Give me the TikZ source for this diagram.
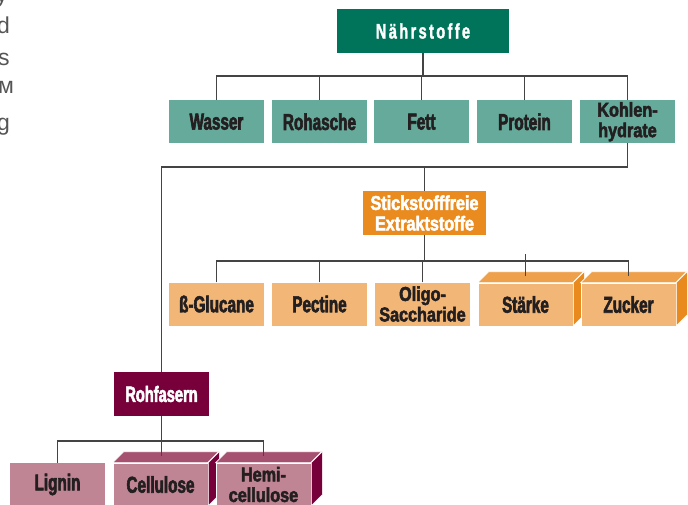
\documentclass[tikz,border=0pt]{standalone}
\usepackage{fontspec}
\setmainfont{Liberation Sans}
\newfontfamily\cfa{Liberation Sans Bold}[FakeStretch=0.665,FakeBold=2.5]
\newfontfamily\cfb{Liberation Sans Bold}[FakeStretch=0.81,FakeBold=2.5]
\newfontfamily\cfn{Liberation Sans Bold}[FakeStretch=0.70,LetterSpace=11,FakeBold=1.5]
\definecolor{greenD}{HTML}{00745A}
\definecolor{greenL}{HTML}{66AA9B}
\definecolor{orangeD}{HTML}{E98B1F}
\definecolor{orangeL}{HTML}{F2B777}
\definecolor{orangeT}{HTML}{EEA04A}
\definecolor{orangeS}{HTML}{E88A1E}
\definecolor{maroon}{HTML}{78003A}
\definecolor{pinkL}{HTML}{C08595}
\definecolor{pinkT}{HTML}{A6516F}
\definecolor{txt}{HTML}{231F20}
\definecolor{lin}{HTML}{444444}
\definecolor{grey}{HTML}{555555}
\newcommand\mkcube[3]{%
  \filldraw[fill=#2,draw=white,line width=0.6pt] (#1.north west) -- ++(11,-11) -- ++(95,0) -- ++(-11,11) -- cycle;
  \filldraw[fill=#3,draw=white,line width=0.6pt] (#1.north east) -- ++(11,-11) -- ++(0,43) -- ++(-11,11) -- cycle;}
\begin{document}
\begin{tikzpicture}[x=1pt,y=-1pt,
  box/.style={minimum width=95pt,minimum height=43pt,inner sep=0pt,align=center,
    font=\cfa\fontsize{23}{20.5}\selectfont,text=txt},
  two/.style={font=\cfb\fontsize{20}{20.5}\selectfont},
  hbox/.style={box,minimum height=44pt,text=white},
  conn/.style={draw=lin,line width=1.3pt},
  side/.style={font=\fontsize{23}{23}\selectfont,text=grey,anchor=base west,inner sep=0pt}]
\useasboundingbox (0,0) rectangle (688,504);
\clip (0,0) rectangle (688,504);
\fill[white] (0,0) rectangle (688,504);

% cut-off text at the left edge
\node[side] (t1) at (-4,2) {y};
\node[side] (t2) at (-3,33) {d};
\node[side] (t3) at (-2,65) {s};
\node[side] (t4) at (-2,93) {м};
\node[side] (t5) at (-3,130) {g};

% top level
\node[hbox,fill=greenD,minimum width=172pt,font=\cfn\fontsize{21}{21}\selectfont] (n) at (423,31)
  {Nährstoffe};

% second row
\node[box,fill=greenL] (wasser) at (216.5,121.75) {Wasser};
\node[box,fill=greenL] (rohasche) at (319.5,121.75) {Rohasche};
\node[box,fill=greenL] (fett) at (421.5,121.75) {Fett};
\node[box,fill=greenL] (prot) at (524.5,121.75) {Protein};
\node[box,two,fill=greenL] (kohlen) at (627.5,121.75) {Kohlen-\\hydrate};

% Stickstofffreie Extraktstoffe
\node[hbox,two,fill=orangeD,minimum width=123pt] (stick) at (424.5,213)
  {Stickstofffreie\\Extraktstoffe};

% third row
\node[box,fill=orangeL] (glu) at (216.5,304) {ß-Glucane};
\node[box,fill=orangeL] (pect) at (319.5,304) {Pectine};
\node[box,two,fill=orangeL] (oligo) at (422.5,304) {Oligo-\\Saccharide};
\node[box,fill=orangeL,draw=white,line width=0.6pt] (staerke) at (525.5,304.5) {Stärke};
\mkcube{staerke}{orangeT}{orangeS}
\node[box,fill=orangeL,draw=white,line width=0.6pt] (zucker) at (628.5,304.5) {Zucker};
\mkcube{zucker}{orangeT}{orangeS}

% Rohfasern
\node[hbox,fill=maroon,font=\cfa\fontsize{22}{22}\selectfont] (rohf) at (161.5,394) {Rohfasern};

% bottom row
\node[box,fill=pinkL] (lignin) at (57.5,484.5) {Lignin};
\node[box,fill=pinkL,draw=white,line width=0.6pt] (cell) at (160.5,484.5) {Cellulose};
\mkcube{cell}{pinkT}{maroon}
\node[box,two,fill=pinkL,draw=white,line width=0.6pt] (hemi) at (263.5,484.5) {Hemi-\\cellulose};
\mkcube{hemi}{pinkT}{maroon}

% connectors
\coordinate (b1) at (423,76);
\draw[conn] (n.south) -- (b1);
\draw[conn] (wasser.north) |- (b1) -| (kohlen.north);
\foreach \k in {rohasche,fett,prot} \draw[conn] (\k.north) -- (\k.north |- b1);

\coordinate (b2) at (424.5,167);
\draw[conn] (kohlen.south) |- (rohf.north |- b2) -- (rohf.north);
\draw[conn] (stick.north) -- (stick.north |- b2);

\coordinate (b3) at (424.5,261);
\draw[conn] (stick.south) -- (b3);
\draw[conn] (glu.north) |- (b3) -| ([yshift=7pt]zucker.north);
\draw[conn] (pect.north) -- (pect.north |- b3);
\draw[conn] (oligo.north) -- (oligo.north |- b3);
\draw[conn] ([yshift=7pt]staerke.north) -- ([yshift=7pt]staerke.north |- b3);

\coordinate (b4) at (161.5,441);
\draw[conn] (rohf.south) -- (b4);
\draw[conn] (lignin.north) |- (b4) -| ([yshift=7pt]hemi.north);
\draw[conn] (b4) -- ([yshift=7pt]cell.north -| b4);
\end{tikzpicture}
\end{document}
